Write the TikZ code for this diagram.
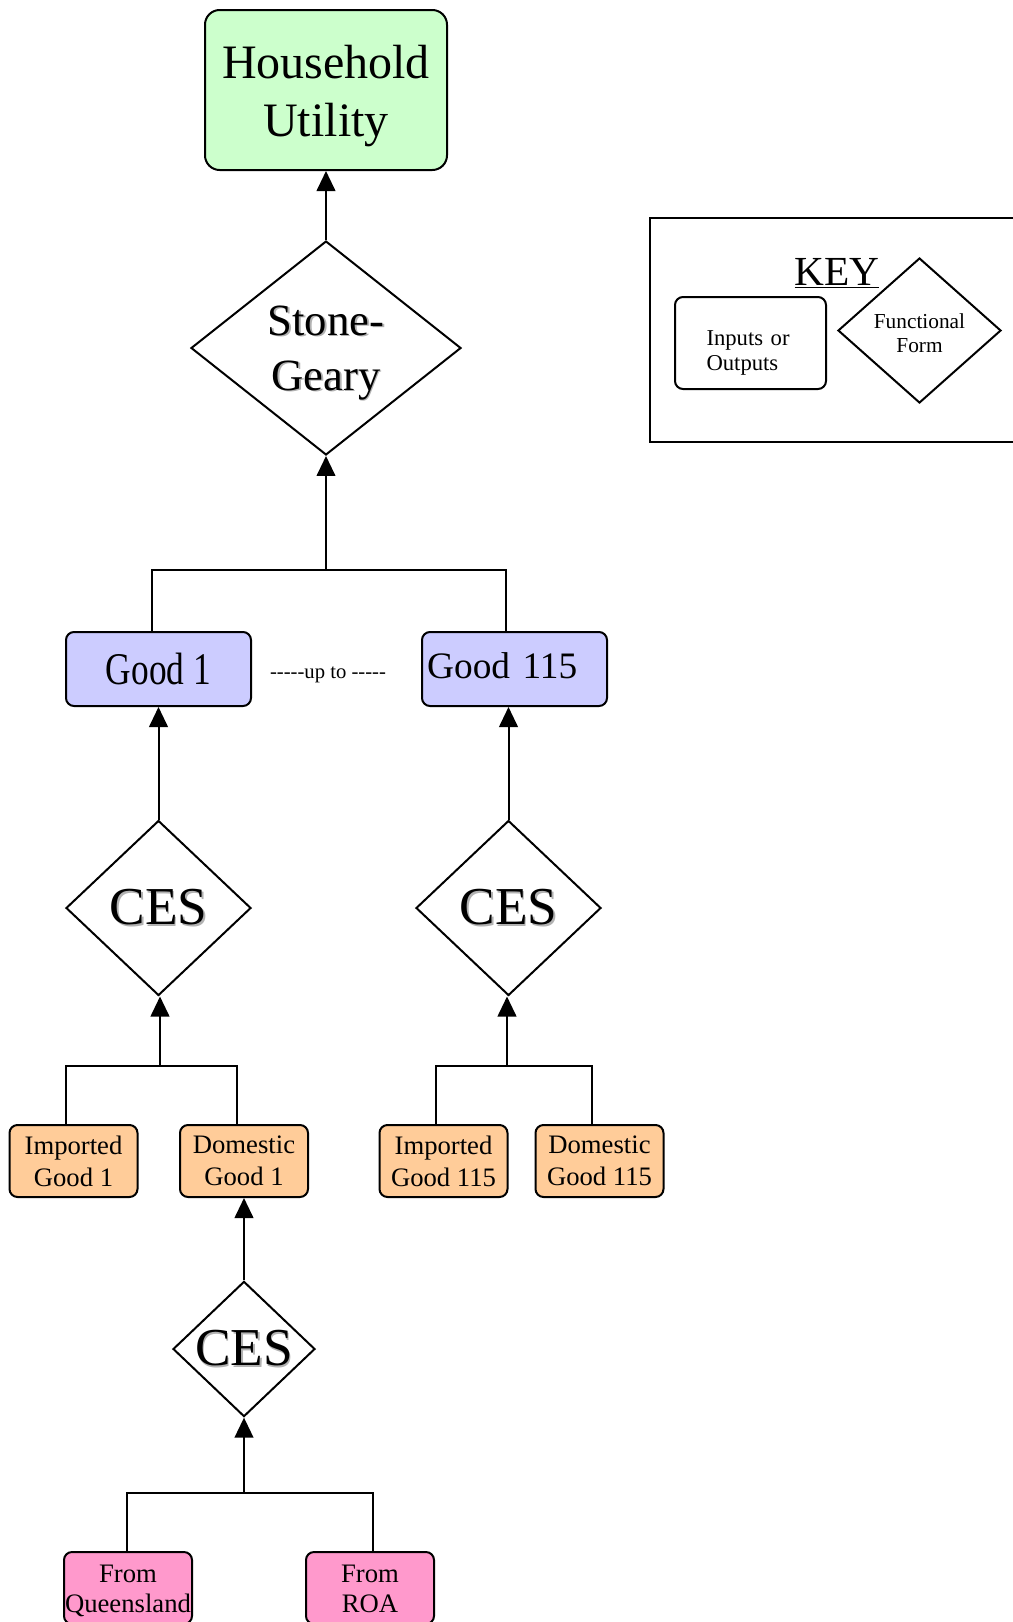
\documentclass[tikz,border=0pt]{standalone}
\usepackage{fontspec}
\setmainfont{Liberation Serif}
\newfontfamily\narrowserif[FakeStretch=0.78]{Liberation Serif}
\usetikzlibrary{arrows.meta, positioning, shapes.geometric}

\definecolor{utilgreen}{HTML}{CCFFCC}
\definecolor{goodblue}{HTML}{CCCCFF}
\definecolor{sourceorange}{HTML}{FFCC99}
\definecolor{regionpink}{HTML}{FF99CC}

% grey drop shadow behind the function names
\newcommand{\shadowed}[1]{\leavevmode\rlap{\kern1.2pt\raisebox{-1.2pt}{\textcolor{black!30}{#1}}}#1}

\begin{document}
\begin{tikzpicture}[
  x=0.75pt, y=-0.75pt, line width=1.5pt,
  box/.style={rectangle, rounded corners=6pt, draw=black, line width=1.5pt,
              align=center, inner sep=0pt},
  utilbox/.style={box, rounded corners=11pt, fill=utilgreen, minimum width=181.5pt,
                  minimum height=120pt, font=\fontsize{36}{43.5}\selectfont},
  goodbox/.style={box, fill=goodblue, minimum width=138.75pt, minimum height=55.5pt},
  srcbox/.style={box, fill=sourceorange, minimum width=96pt, minimum height=54pt,
                 font=\fontsize{20}{24}\selectfont},
  regbox/.style={box, fill=regionpink, minimum width=96pt, minimum height=54pt,
                 font=\fontsize{20}{22.5}\selectfont, text height=38pt, text depth=2pt},
  form/.style={diamond, draw=black, fill=white, line width=1.5pt, align=center, inner sep=0pt},
  cesform/.style={form, minimum width=138.75pt, minimum height=131.25pt,
                  font=\fontsize{40}{46}\selectfont},
  arrow/.style={-{Triangle[length=15pt, width=14pt]}, line width=1.5pt}
]
\useasboundingbox (0,0) rectangle (1013,1622);

% top of the tree
\node[utilbox, text height=74.5pt, text depth=5.5pt] (util) at (326,90) {Household\\Utility};
\node[form, minimum width=202.5pt, minimum height=159pt, text height=68pt, text depth=5pt,
      font=\fontsize{33.5}{41}\selectfont] (stone) at (326,348) {\shadowed{Stone-}\\\shadowed{Geary}};

\node[goodbox, font=\narrowserif\fontsize{34}{40}\selectfont] (good1) at (158.5,669) {Good 1};
\node[goodbox, font=\fontsize{28}{32}\selectfont, align=left, text width=131pt, inner xsep=3.75pt,
      text height=21.75pt, text depth=8.25pt] (good115) at (514.5,669) {Good 115};
\node[font=\fontsize{15.5}{18}\selectfont] (upto) at (328,675) {{-}{-}{-}{-}{-}up to {-}{-}{-}{-}{-}};

\node[cesform] (ces1) at (158.5,908) {\shadowed{CES}};
\node[cesform] (ces115) at (508.5,908) {\shadowed{CES}};

\node[srcbox] (imp1) at (73.5,1161) {Imported\\Good 1};
\node[srcbox] (dom1) at (244,1161) {Domestic\\Good 1};
\node[srcbox] (imp115) at (443.5,1161) {Imported\\Good 115};
\node[srcbox] (dom115) at (599.5,1161) {Domestic\\Good 115};

\node[form, minimum width=106.5pt, minimum height=87pt,
      font=\fontsize{40}{46}\selectfont] (cesdom) at (244,1349) {\shadowed{CES}};
\node[regbox] (qld) at (128,1588) {From\\Queensland};
\node[regbox] (roa) at (370,1588) {From\\ROA};

% key
\node[draw, line width=1.5pt, minimum width=285pt, minimum height=168pt] (keyframe) at (840,330) {};
\node[anchor=base, font=\fontsize{31}{36}\selectfont] (keytitle) at (837,285) {\underline{KEY}};
\node[box, minimum width=113.25pt, minimum height=69pt, align=left, text width=66pt,
      inner xsep=23.6pt, text height=21.5pt, text depth=18.5pt,
      font=\fontsize{17}{18.75}\selectfont] (keybox) at (750.5,343) {Inputs or\\Outputs};
\node[form, minimum width=122.25pt, minimum height=108.75pt, text height=34pt, text depth=1.75pt,
      font=\fontsize{16}{18}\selectfont] (keyform) at (919.5,330.5) {Functional\\Form};

% connectors
\coordinate (topjoin) at (326,570);
\coordinate (join1) at (160,1066);
\coordinate (join115) at (507,1066);
\coordinate (join2) at (244,1493);

\draw[arrow] (stone) -- (util);
\draw ([xshift=-4.9pt]good1.north) |- (topjoin) -| ([xshift=-6.4pt]good115.north);
\draw[arrow] (topjoin) -- (stone);
\draw[arrow] (ces1) -- (good1);
\draw[arrow] (ces115.north) -- (ces115.north |- good115.south);
\draw ([xshift=-5.6pt]imp1.north) |- (join1) -| ([xshift=-5.3pt]dom1.north);
\draw[arrow] (join1) -- (join1 |- ces1.south);
\draw ([xshift=-5.6pt]imp115.north) |- (join115) -| ([xshift=-5.6pt]dom115.north);
\draw[arrow] (join115) -- (join115 |- ces115.south);
\draw[arrow] (cesdom) -- (dom1);
\draw ([xshift=-0.75pt]qld.north) |- (join2) -| ([xshift=2.25pt]roa.north);
\draw[arrow] (join2) -- (cesdom);

\end{tikzpicture}
\end{document}
